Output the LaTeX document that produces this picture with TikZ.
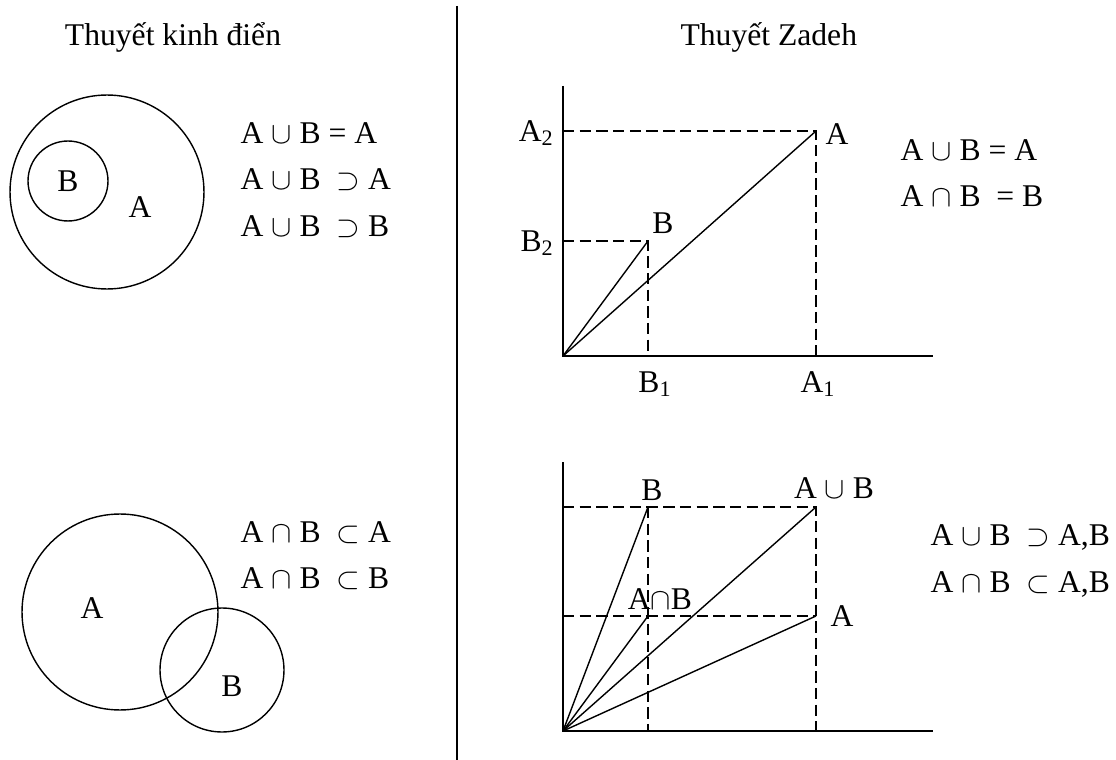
\documentclass[tikz,border=0pt]{standalone}
\usepackage{fontspec}
\setmainfont{Liberation Serif}
\usetikzlibrary{positioning}
\begin{document}
\begin{tikzpicture}[
    x=0.02cm, y=-0.02cm,
    font=\fontsize{18}{21}\selectfont,
    line width=0.8pt,
    guide/.style={dash pattern=on 6.5pt off 3pt},
    setcircle/.style={circle, draw, line width=0.8pt, inner sep=0pt},
    law/.style={anchor=west, inner sep=0pt},
    ptlabel/.style={inner sep=1pt}
    ]
    \useasboundingbox (0,0) rectangle (1116,760);

    % titles and divider
    \node (classic) at (173,37) {Thuyết kinh điển};
    \node[anchor=west] (zadeh) at (674,37) {Thuyết Zadeh};
    \coordinate (divtop) at (457,6);
    \coordinate (divbot) at (457,760);
    \draw (divtop) -- (divbot);

    % classic theory: B inside A
    \node[setcircle, minimum size=3.88cm] (bigA) at (107,192) {};
    \node[setcircle, minimum size=1.6cm] (smallB) at (68,181) {};
    \node (labB) at (smallB) {B};
    \node (labA) at (140,207) {A};
    \node[law] (law1) at (240,133) {A $\cup$ B = A};
    \node[law] (law2) at (240,180) {A $\cup$ B \ $\supset$ A};
    \node[law] (law3) at (240,227) {A $\cup$ B \ $\supset$ B};

    % classic theory: overlapping sets
    \node[setcircle, minimum size=3.92cm] (ovA) at (120,612) {};
    \node[setcircle, minimum size=2.48cm] (ovB) at (222,670) {};
    \node (labA2) at (92,608) {A};
    \node (labB2) at (232,686) {B};
    \node[law] (law4) at (240,533) {A $\cap$ B \ $\subset$ A};
    \node[law] (law5) at (240,579) {A $\cap$ B \ $\subset$ B};

    % Zadeh: B inside A
    \coordinate (o1) at (563,356);
    \coordinate (ytop1) at (563,86);
    \coordinate (xend1) at (933,356);
    \coordinate (pa) at (816,131);
    \coordinate (pb) at (648,241);
    \draw (ytop1) -- (o1) -- (xend1);
    \draw[guide] (o1 |- pa) -- (pa) -- (pa |- o1);
    \draw[guide] (o1 |- pb) -- (pb) -- (pb |- o1);
    \draw (o1) -- (pa);
    \draw (o1) -- (pb);
    \node[ptlabel] (labpa) at (837,134) {A};
    \node[ptlabel] (labpb) at (663,223) {B};
    \node[ptlabel, anchor=east] (laba2) at (556,133) {A\textsubscript{2}};
    \node[ptlabel, anchor=east] (labb2) at (556,243) {B\textsubscript{2}};
    \node[ptlabel] (labb1) at (655,384) {B\textsubscript{1}};
    \node[ptlabel] (laba1) at (818,384) {A\textsubscript{1}};
    \node[law] (law6) at (900,150) {A $\cup$ B = A};
    \node[law] (law7) at (900,196) {A $\cap$ B \ = B};

    % Zadeh: general case
    \coordinate (o2) at (563,731);
    \coordinate (ytop2) at (563,462);
    \coordinate (xend2) at (933,731);
    \coordinate (qb) at (648,507);
    \coordinate (qu) at (816,507);
    \coordinate (qi) at (648,616);
    \coordinate (qa) at (816,616);
    \draw (ytop2) -- (o2) -- (xend2);
    \draw[guide] (o2 |- qu) -- (qu) -- (qu |- o2);
    \draw[guide] (o2 |- qa) -- (qa);
    \draw[guide] (qb) -- (qb |- o2);
    \draw (o2) -- (qb);
    \draw (o2) -- (qu);
    \draw (o2) -- (qi);
    \draw (o2) -- (qa);
    \node[ptlabel] (labqb) at (652,490) {B};
    \node[ptlabel] (labqu) at (834,488) {A $\cup$ B};
    \node[ptlabel] (labqi) at (660,599) {A$\cap$B};
    \node[ptlabel] (labqa) at (842,616) {A};
    \node[law] (law8) at (930,537) {A $\cup$ B \ $\supset$ A,B};
    \node[law] (law9) at (930,584) {A $\cap$ B \ $\subset$ A,B};
\end{tikzpicture}
\end{document}
